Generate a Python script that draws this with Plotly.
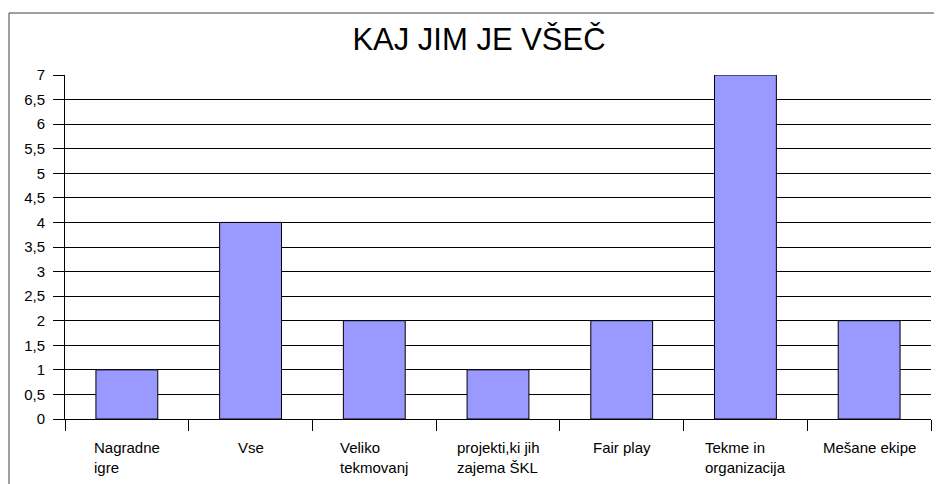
import plotly.graph_objects as go

categories = ["Nagradne igre", "Vse", "Veliko tekmovanj", "projekti,ki jih zajema ŠKL",
              "Fair play", "Tekme in organizacija", "Mešane ekipe"]
label_lines = ["Nagradne<br>igre", "Vse", "Veliko<br>tekmovanj", "projekti,ki jih<br>zajema ŠKL",
               "Fair play", "Tekme in<br>organizacija", "Mešane ekipe"]
values = [1, 4, 2, 1, 2, 7, 2]

font = "Liberation Sans, Arial, sans-serif"

# page body has an 8px margin, so the figure is 8px smaller than the window
W, H = 934, 476
L, T, R, B = 57, 67, 11, 65
pw, ph = W - L - R, H - T - B

fig = go.Figure(go.Bar(
    x=categories, y=values,
    marker=dict(color="#9999FF", line=dict(color="#000000", width=1)),
))

# category labels: centred block, lines left aligned
for cat, txt in zip(categories, label_lines):
    fig.add_annotation(x=cat, xref="x", y=0, yref="y", yshift=-18,
                       text=txt, showarrow=False, xanchor="center", yanchor="top",
                       align="left", font=dict(family=font, size=15, color="#000"))

# outer chart frame
fig.add_shape(type="rect", xref="paper", yref="paper",
              x0=(1 - L) / pw, x1=1.2, y0=-0.5, y1=(T + ph - 5) / ph,
              line=dict(color="#404040", width=1), fillcolor="rgba(0,0,0,0)", layer="below")

fig.update_layout(
    width=W, height=H,
    margin=dict(l=L, r=R, t=T, b=B, autoexpand=False),
    paper_bgcolor="white", plot_bgcolor="white",
    separators=",.",
    showlegend=False,
    bargap=0.5,
    title=dict(text="KAJ JIM JE VŠEČ", x=471 / W, xanchor="center", y=1 - 31 / H, yanchor="middle",
               font=dict(family=font, size=31, color="#000")),
    font=dict(family=font, size=15, color="#000"),
    xaxis=dict(showticklabels=False, ticks="outside", tickson="boundaries", ticklen=11,
               tickcolor="#000", showline=True, linecolor="#000", linewidth=1,
               showgrid=False, fixedrange=True, automargin=False),
    yaxis=dict(range=[0, 7], dtick=0.5, ticks="outside", ticklen=11, tickcolor="#000",
               showline=True, linecolor="#000", linewidth=1, showgrid=True,
               gridcolor="#000", gridwidth=1, zeroline=False, automargin=False,
               ticklabelstandoff=5,
               tickfont=dict(family=font, size=15, color="#000")),
)

fig.write_html("out.html")
